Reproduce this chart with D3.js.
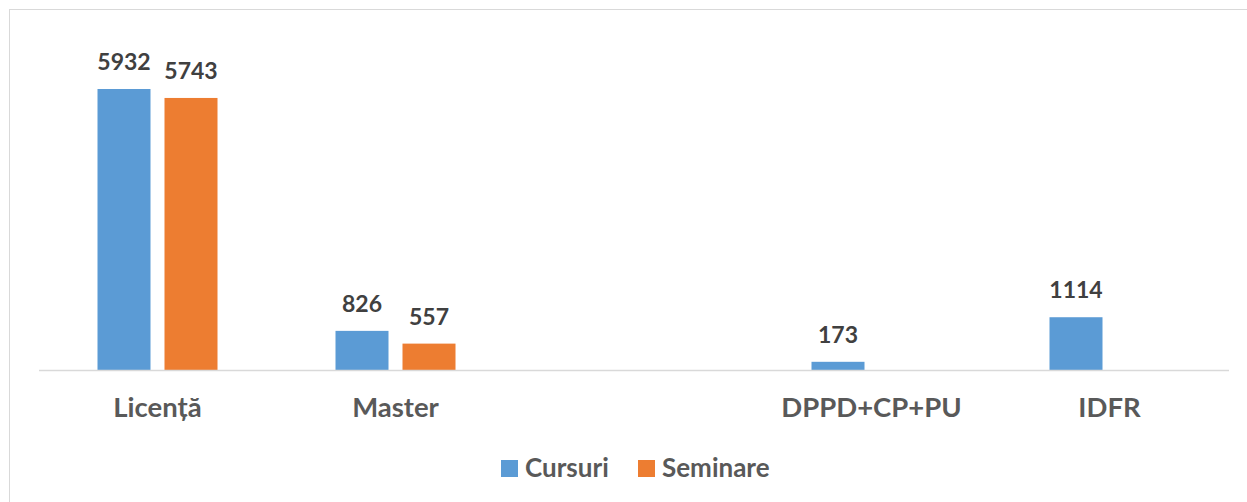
<!DOCTYPE html>
<html>
<head>
<meta charset="utf-8">
<script src="https://cdn.jsdelivr.net/npm/d3@7"></script>
<style>
  body { margin: 0; background: #fff; }
  svg text { font-family: Lato, "Open Sans", sans-serif; font-weight: bold; }
</style>
</head>
<body>
<svg id="chart" width="1247" height="502"></svg>
<script>
// chart data
var categories = ["Licență", "Master", "", "DPPD+CP+PU", "IDFR"],
    series = ["Cursuri", "Seminare"],
    colors = ["#5b9bd5", "#ed7d31"];
var cursuri = [5932, 826, null, 173, 1114],
    seminare = [5743, 557, null, null, null];

var values = [cursuri, seminare];

var svg = d3.select("#chart");

// outer frame (only top & left edge fall inside the picture)
svg.append("rect")
   .attr("x", 9.5).attr("y", 9.5)
   .attr("width", 1260).attr("height", 520)
   .attr("fill", "none")
   .attr("stroke", "#d9d9d9");

var baseY = 370,
    groupW = 120;

var x0 = d3.scaleBand()
    .domain(d3.range(categories.length))
    .range([38.5, 1228.5]);

var x1 = d3.scaleBand()
    .domain(series)
    .range([0, groupW])
    .paddingInner(14 / 67);

var y = d3.scaleLinear()
    .domain([0, 5932])
    .range([baseY, 89]);

// bars
series.forEach(function(s, si) {
  var g = svg.append("g");
  var pts = values[si].map(function(v, i) { return {i: i, v: v}; })
                      .filter(function(d) { return d.v != null; });
  g.selectAll("rect")
    .data(pts)
    .enter().append("rect")
      .attr("x", function(d) { return x0(d.i) + (x0.bandwidth() - groupW) / 2 + x1(s); })
      .attr("y", function(d) { return y(d.v); })
      .attr("width", x1.bandwidth())
      .attr("height", function(d) { return baseY - y(d.v); })
      .attr("fill", colors[si]);
  // value labels
  g.selectAll("text")
    .data(pts)
    .enter().append("text")
      .attr("x", function(d) { return x0(d.i) + (x0.bandwidth() - groupW) / 2 + x1(s) + x1.bandwidth() / 2; })
      .attr("y", function(d) { return y(d.v) - 19; })
      .attr("text-anchor", "middle")
      .attr("font-size", "23px")
      .attr("fill", "#404040")
      .text(function(d) { return d.v; });
});

// category axis
var axis = svg.append("g")
    .attr("transform", "translate(0," + baseY + ")")
    .call(d3.axisBottom(x0).tickSize(0).tickPadding(0)
      .tickFormat(function(i) { return categories[i]; }));
axis.select(".domain").attr("stroke", "#d9d9d9").attr("stroke-width", 1.5);
axis.selectAll("text")
    .attr("dy", null)
    .attr("y", 47)
    .attr("font-size", "27.5px")
    .attr("fill", "#595959");

// legend
var legend = svg.append("g");
var legendX = [501, 638];
series.forEach(function(s, si) {
  legend.append("rect")
    .attr("x", legendX[si]).attr("y", 460)
    .attr("width", 17).attr("height", 17)
    .attr("fill", colors[si]);
  legend.append("text")
    .attr("x", legendX[si] + 24).attr("y", 477)
    .attr("font-size", "26px")
    .attr("fill", "#595959")
    .text(s);
});
</script>
</body>
</html>
